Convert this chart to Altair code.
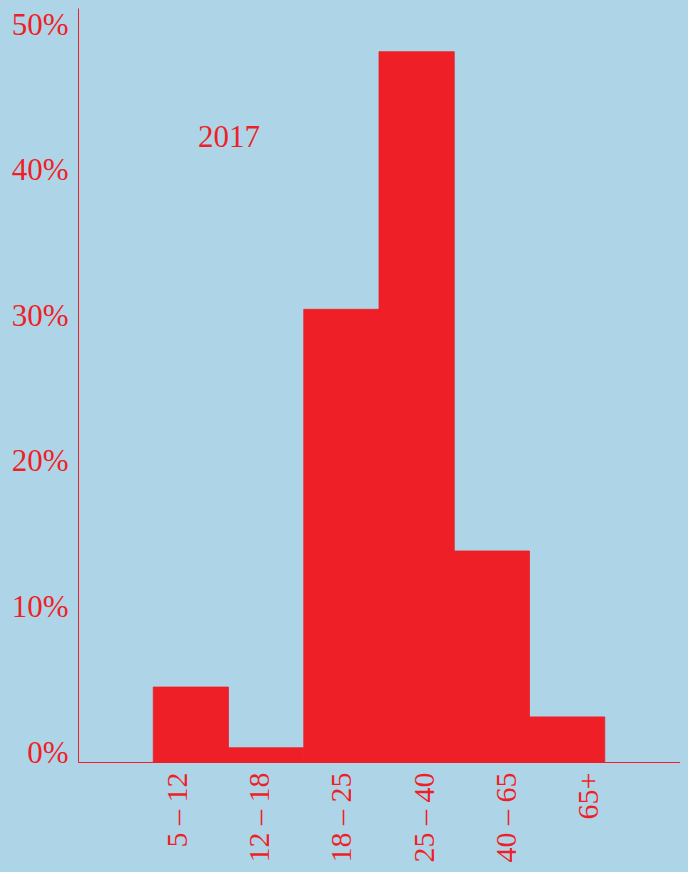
import altair as alt
import pandas as pd
import jinja2

groups = ["5 – 12", "12 – 18", "18 – 25", "25 – 40", "40 – 65", "65+"]
shares = [0.0515, 0.0098, 0.311, 0.488, 0.145, 0.031]
year_label = ["2017"]
y_ticks = [0.0, 0.1, 0.2, 0.3, 0.4, 0.5]

RED = "#ee1f26"
BLUE = "#aed4e8"
FONT = "Liberation Serif"

df = pd.DataFrame({"group": groups, "share": shares})
df_year = pd.DataFrame({"year": year_label})

bars = alt.Chart(df).mark_bar(color=RED, stroke=RED, strokeWidth=0.8).encode(
    x=alt.X("group:N", sort=groups,
            scale=alt.Scale(type="band", paddingInner=0, paddingOuter=1),
            axis=alt.Axis(orient="bottom", labels=False, ticks=False, title=None,
                          domainColor=RED, domainWidth=1)),
    y=alt.Y("share:Q",
            scale=alt.Scale(domain=[0, 0.518], nice=False),
            axis=alt.Axis(values=y_ticks, format=".0%", title=None, grid=False,
                          ticks=False, domainColor=RED, domainWidth=1,
                          labelColor=RED, labelFont=FONT, labelFontSize=31,
                          labelBaseline="alphabetic", labelPadding=10,
                          labelAlign="right")),
)

labels = alt.Chart(df).mark_bar(opacity=0).encode(
    x=alt.X("group:N", sort=groups,
            scale=alt.Scale(type="band", paddingInner=0, paddingOuter=0.656, align=0.625),
            axis=alt.Axis(orient="bottom", domain=False, ticks=False, title=None,
                          labelAngle=-90, labelAlign="right",
                          labelBaseline="alphabetic", labelPadding=10,
                          labelColor=RED, labelFont=FONT, labelFontSize=30)),
    y=alt.value(0),
    y2=alt.value(0),
)

year = alt.Chart(df_year).mark_text(
    color=RED, font=FONT, fontSize=31, align="center", baseline="alphabetic"
).encode(
    text="year:N",
    x=alt.value(151),
    y=alt.value(139),
)

chart = alt.layer(bars, labels, year).resolve_scale(x="independent").properties(
    width=602, height=754,
    background=BLUE,
    autosize=alt.AutoSizeParams(type="none"),
    padding={"left": 70, "top": 0, "right": 0, "bottom": 102},
).configure_view(stroke=None)

PAGE = jinja2.Template("""<!DOCTYPE html>
<html>
<head>
  <meta charset="utf-8">
  <style>
    html, body { background: #aed4e8; }
    .error { color: red; }
  </style>
  <script type="text/javascript" src="{{ base_url }}/vega@{{ vega_version }}"></script>
  <script type="text/javascript" src="{{ base_url }}/vega-lite@{{ vegalite_version }}"></script>
  <script type="text/javascript" src="{{ base_url }}/vega-embed@{{ vegaembed_version }}"></script>
</head>
<body>
  <div id="{{ output_div }}"></div>
  <script>
    (function(vegaEmbed) {
      var spec = {{ spec }};
      var embedOpt = {{ embed_options }};
      function showError(el, error){
        el.innerHTML = ('<div class="error" style="color:red;">'
                        + '<p>JavaScript Error: ' + error.message + '</p>'
                        + "</div>");
        throw error;
      }
      const el = document.getElementById('{{ output_div }}');
      vegaEmbed("#{{ output_div }}", spec, embedOpt)
        .catch(error => showError(el, error));
    })(vegaEmbed);
  </script>
</body>
</html>
""")

chart.save("out.html", embed_options={"renderer": "svg", "actions": False}, template=PAGE)
